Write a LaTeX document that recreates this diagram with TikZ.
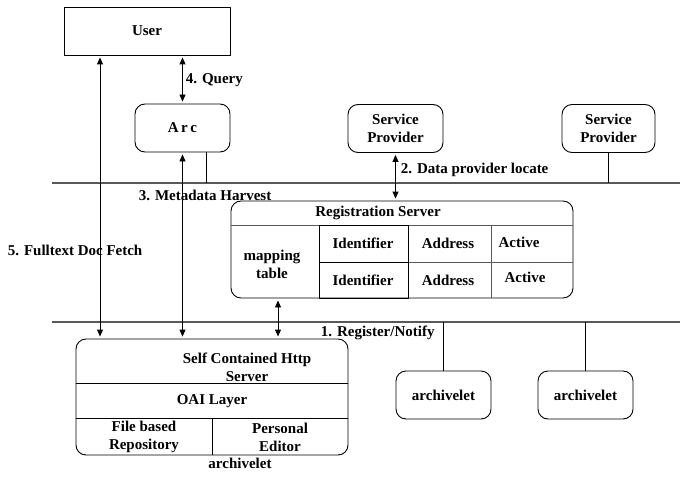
\documentclass[tikz,border=0pt]{standalone}
\usepackage{fontspec}
\setmainfont{Liberation Serif}
\usetikzlibrary{arrows.meta}
\begin{document}
\begin{tikzpicture}[x=1pt,y=-1pt,>={Stealth[length=7pt,width=6pt,inset=0pt]},line join=round,line width=0.9pt,font=\fontsize{15}{18}\selectfont\bfseries,
	box/.style={draw,minimum width=95pt,minimum height=48pt,rounded corners=10pt,align=center,inner sep=0pt},
	bus/.style={draw=black!65,line width=1.3pt},
	cell/.style={draw=black!65},
	link/.style={<->,shorten <=2pt,shorten >=2pt}]
	\useasboundingbox (0,0) rectangle (687,476);
	\node[box,sharp corners,minimum width=166pt] (user) at (147,31) {User};
	\node[box] (arc) at (182.5,128) {A\,r\,c};
	\node[box] (sp1) at (395.5,128.5) {Service\\Provider};
	\node[box,minimum width=93pt] (sp2) at (608.5,128.5) {Service\\Provider};
	\node[box,minimum width=342pt,minimum height=97pt] (reg) at (402,249.5) {};
	\node[box,minimum width=272pt,minimum height=116pt] (arch) at (212,397) {};
	\node[box] (av1) at (443.5,395) {archivelet};
	\node[box] (av2) at (585.5,395) {archivelet};
	\coordinate (b1w) at (52,183); \coordinate (b1e) at (680,183);
	\coordinate (b2w) at (52,322); \coordinate (b2e) at (680,322);
	\draw[bus] (b1w)--(b1e);
	\draw[bus] (b2w)--(b2e);
	\coordinate (fetch) at (100,0);
	\coordinate (tap) at (206,0);
	\coordinate (reglink) at (278,0);
	\draw[link] (user.south -| fetch)--(arch.north -| fetch);
	\draw[link] (user.south -| arc)--(arc.north);
	\draw[link] (arc.south)--(arch.north -| arc);
	\draw (arc.south -| tap)--(b1w -| tap);
	\draw[link] (sp1.south)--(reg.north -| sp1);
	\draw (sp2.south)--(b1w -| sp2);
	\draw[link] (reg.south -| reglink)--(arch.north -| reglink);
	\draw (av1.north)--(b2w -| av1);
	\draw (av2.north)--(b2w -| av2);
	\node[anchor=west] (q) at (182,80) {4. Query};
	\node[anchor=west] (dp) at (397,170) {2. Data provider locate};
	\node[anchor=west] (mh) at (135,195) {3. Metadata Harvest};
	\node[anchor=west] (ff) at (4,250) {5. Fulltext Doc Fetch};
	\node[anchor=west] (rn) at (317,333) {1. Register/Notify};
	% registration server table
	\draw[cell] (231,225)--(573,225);
	\draw[cell] (408,225)--(408,298) (491,225)--(491,298) (408,262)--(573,262);
	\draw (319,225) rectangle (408,298) (319,262)--(408,262);
	\node (rs) at (378,213) {Registration Server};
	\node[align=center] (mt) at (272,264) {mapping\\table};
	\node (id1) at (363,243) {Identifier};
	\node (id2) at (363,280) {Identifier};
	\node (ad1) at (448,243) {Address};
	\node (ad2) at (448,280) {Address};
	\node (ac1) at (519,242) {Active};
	\node (ac2) at (525,277) {Active};
	% archivelet layers
	\draw (76,383)--(348,383) (76,418)--(348,418) (212,418)--(212,455);
	\node[align=center] (http) at (247,367) {Self Contained Http\\Server};
	\node (oai) at (212,401) {OAI Layer};
	\node[align=center] (repo) at (144,437) {File based\\Repository};
	\node[align=center] (edit) at (280,437) {Personal\\Editor};
	\node (lbl) at (240,463) {archivelet};
\end{tikzpicture}
\end{document}
